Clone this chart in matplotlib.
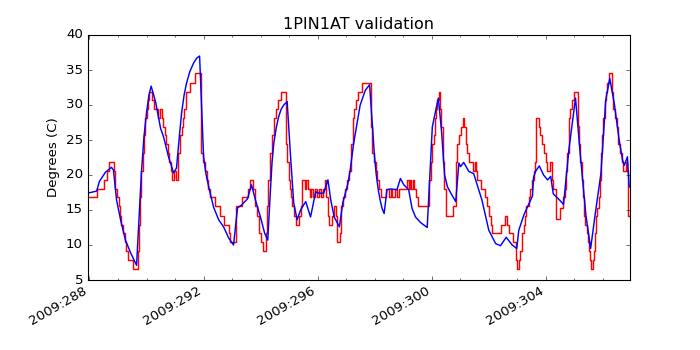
import matplotlib
matplotlib.use('Agg')
import matplotlib.pyplot as plt
from matplotlib.ticker import FixedLocator, FuncFormatter

plt.style.use('classic')

# telemetry (red, steps) - day of year 2009
red_t = [287.93, 288.28, 288.52, 288.61, 288.70, 288.87, 288.91, 288.96, 289.02, 289.07,
         289.11, 289.17, 289.25, 289.29, 289.34, 289.52, 289.70, 289.74, 289.77, 289.81,
         289.86, 289.91, 289.96, 290.02, 290.05, 290.09, 290.19, 290.25, 290.39, 290.46,
         290.54, 290.58, 290.63, 290.68, 290.74, 290.79, 290.84, 290.89, 290.96, 291.04,
         291.11, 291.12, 291.18, 291.23, 291.29, 291.33, 291.37, 291.40, 291.52, 291.69,
         291.91, 291.99, 292.04, 292.11, 292.16, 292.21, 292.40, 292.56, 292.70, 292.88,
         292.93, 293.14, 293.33, 293.54, 293.61, 293.72, 293.79, 293.82, 293.86, 293.93,
         293.96, 294.00, 294.07, 294.20, 294.23, 294.26, 294.32, 294.39, 294.46, 294.53,
         294.61, 294.70, 294.90, 294.93, 294.98, 295.02, 295.05, 295.11, 295.18, 295.25,
         295.34, 295.40, 295.46, 295.54, 295.58, 295.66, 295.72, 295.78, 295.82, 295.89,
         295.96, 296.04, 296.11, 296.18, 296.25, 296.30, 296.35, 296.39, 296.49, 296.56,
         296.65, 296.68, 296.77, 296.81, 296.88, 296.95, 297.02, 297.11, 297.17, 297.23,
         297.29, 297.34, 297.40, 297.55, 297.87, 297.91, 297.96, 298.04, 298.07, 298.14,
         298.21, 298.40, 298.49, 298.56, 298.60, 298.70, 298.77, 298.84, 299.12, 299.19,
         299.23, 299.28, 299.33, 299.37, 299.43, 299.51, 299.91, 299.96, 300.02, 300.07,
         300.12, 300.16, 300.20, 300.24, 300.28, 300.32, 300.38, 300.43, 300.49, 300.75,
         300.84, 300.90, 300.96, 301.02, 301.08, 301.13, 301.19, 301.25, 301.29, 301.45,
         301.51, 301.54, 301.57, 301.71, 301.88, 301.94, 302.00, 302.06, 302.12, 302.43,
         302.55, 302.64, 302.70, 302.85, 302.97, 302.99, 303.05, 303.11, 303.16, 303.23,
         303.26, 303.31, 303.40, 303.46, 303.52, 303.58, 303.61, 303.64, 303.75, 303.79,
         303.86, 303.93, 303.99, 304.04, 304.16, 304.20, 304.25, 304.36, 304.50, 304.59,
         304.67, 304.70, 304.74, 304.80, 304.85, 304.91, 304.97, 305.11, 305.16, 305.19,
         305.25, 305.30, 305.33, 305.38, 305.44, 305.47, 305.53, 305.56, 305.59, 305.65,
         305.68, 305.72, 305.75, 305.79, 305.85, 305.89, 305.93, 305.96, 306.02, 306.08,
         306.11, 306.16, 306.20, 306.31, 306.37, 306.42, 306.49, 306.54, 306.61, 306.67,
         306.69, 306.81, 306.84, 306.88, 306.95]
red_v = [16.8, 18.0, 19.3, 20.6, 21.8, 20.6, 18.0, 16.8, 15.5, 14.2,
         12.9, 11.7, 10.4, 9.1, 7.8, 6.6, 9.1, 12.9, 16.8, 20.6,
         23.1, 25.7, 28.2, 29.4, 30.7, 31.9, 30.7, 29.4, 28.2, 29.4,
         28.2, 26.9, 25.7, 24.4, 23.1, 21.8, 20.6, 19.3, 20.6, 19.3,
         20.6, 23.1, 25.7, 26.9, 28.2, 29.4, 30.7, 31.9, 33.2, 34.5,
         23.1, 21.8, 20.6, 19.3, 18.0, 16.8, 15.5, 14.2, 12.9, 11.7,
         10.4, 15.5, 16.8, 18.0, 19.3, 18.0, 16.8, 15.5, 14.2, 12.9,
         11.7, 10.4, 9.1, 11.7, 15.5, 19.3, 23.1, 25.7, 28.2, 29.4,
         30.7, 31.9, 24.4, 21.8, 19.3, 18.0, 16.8, 15.5, 14.2, 12.9,
         14.2, 15.5, 19.3, 18.0, 19.3, 18.0, 16.8, 18.0, 16.8, 18.0,
         16.8, 18.0, 16.8, 18.0, 19.3, 16.8, 14.2, 12.9, 14.2, 15.5,
         14.2, 10.4, 11.7, 15.5, 16.8, 18.0, 19.3, 20.6, 24.4, 28.2,
         29.4, 30.7, 31.9, 33.2, 26.9, 23.1, 21.8, 20.6, 19.3, 18.0,
         16.8, 18.0, 16.8, 18.0, 16.8, 18.0, 16.8, 18.0, 19.3, 18.0,
         19.3, 18.0, 19.3, 18.0, 16.8, 15.5, 19.3, 21.8, 24.4, 25.7,
         28.2, 29.4, 30.7, 31.9, 29.4, 26.9, 21.8, 18.0, 14.2, 15.5,
         21.8, 24.4, 25.7, 26.9, 28.2, 26.9, 24.4, 23.1, 21.8, 20.6,
         21.8, 20.6, 19.3, 18.0, 16.8, 15.5, 14.2, 12.9, 11.7, 12.9,
         14.2, 12.9, 11.7, 10.4, 7.8, 6.6, 7.8, 9.1, 11.7, 12.9,
         14.2, 15.5, 16.8, 18.0, 19.3, 20.6, 21.8, 28.2, 26.9, 25.7,
         24.4, 23.1, 21.8, 20.6, 21.8, 19.3, 18.0, 13.7, 15.3, 16.8,
         18.0, 20.6, 23.1, 28.2, 29.4, 30.7, 31.9, 27.0, 24.4, 21.8,
         19.3, 16.8, 14.2, 12.9, 11.7, 10.4, 9.1, 7.8, 6.6, 7.8,
         9.1, 11.7, 14.2, 15.3, 16.8, 19.3, 23.1, 25.7, 28.2, 30.7,
         31.9, 33.2, 34.5, 31.9, 29.4, 28.2, 26.9, 24.4, 23.1, 21.8,
         20.6, 21.8, 20.6, 14.2, 14.2]

# model (blue)
blue_t = [287.93, 288.25, 288.35, 288.56, 288.77, 288.84, 288.95, 289.09, 289.26, 289.44,
          289.65, 289.74, 289.82, 289.91, 290.00, 290.08, 290.16, 290.32, 290.49, 290.60,
          290.77, 290.95, 291.05, 291.15, 291.23, 291.32, 291.40, 291.52, 291.65, 291.76,
          291.86, 292.00, 292.09, 292.18, 292.35, 292.53, 292.70, 292.88,
          293.05, 293.19, 293.33, 293.54, 293.68, 293.82, 294.00, 294.14, 294.25, 294.30,
          294.35, 294.40, 294.46, 294.55, 294.63, 294.72, 294.81, 294.93, 295.05, 295.16,
          295.28, 295.40, 295.58, 295.75,
          295.93, 296.04, 296.21, 296.36, 296.46, 296.58, 296.76, 296.88, 297.06, 297.14,
          297.26, 297.38, 297.49, 297.67, 297.82, 297.87, 297.93, 297.99, 298.05, 298.12,
          298.19, 298.26, 298.33, 298.43,
          298.55, 298.78, 298.90, 299.02, 299.19, 299.31, 299.43, 299.61, 299.84, 300.02,
          300.23, 300.29, 300.34, 300.40, 300.45, 300.55, 300.67, 300.84, 300.95, 301.01,
          301.12, 301.30, 301.47,
          301.76, 302.00, 302.24, 302.41, 302.61, 302.82, 302.98, 303.05, 303.23, 303.53,
          303.57, 303.65, 303.77, 303.92, 304.06, 304.17, 304.26, 304.44, 304.62, 304.81,
          305.04, 305.19, 305.40, 305.57, 305.75, 305.93, 306.10, 306.24, 306.40, 306.57,
          306.69, 306.75, 306.86, 306.92]
blue_v = [17.4, 17.7, 19.1, 20.4, 21.1, 20.7, 16.4, 13.6, 10.7, 8.9,
          7.1, 14.0, 20.3, 25.5, 28.9, 31.3, 32.7, 30.4, 26.7, 25.4,
          22.6, 20.3, 21.0, 25.5, 28.9, 31.5, 33.1, 34.8, 36.0, 36.7,
          37.0, 22.6, 20.0, 18.3, 15.4, 13.6, 12.6, 11.0,
          10.0, 15.3, 15.7, 16.6, 18.6, 16.4, 13.9, 11.7, 10.7, 14.5,
          18.3, 21.8, 24.5, 26.8, 28.3, 29.4, 30.0, 30.5, 22.6, 16.0,
          13.6, 15.0, 16.2, 14.0,
          17.6, 17.4, 17.4, 19.3, 16.4, 14.0, 12.6, 16.0, 18.8, 20.7,
          24.5, 27.4, 30.0, 32.1, 32.9, 30.0, 26.4, 22.8, 20.2, 18.0,
          16.4, 15.2, 14.5, 17.9,
          18.0, 17.9, 19.5, 18.6, 17.9, 15.2, 14.0, 13.2, 12.5, 26.9,
          31.0, 28.5, 26.4, 22.8, 20.0, 18.3, 17.4, 16.2, 21.7, 21.2,
          21.8, 20.5, 20.2,
          16.4, 12.1, 10.2, 9.9, 11.1, 10.0, 9.5, 12.1, 14.3, 17.0,
          19.7, 20.6, 21.3, 20.0, 19.3, 19.8, 17.3, 16.6, 15.8, 23.7,
          31.0, 23.7, 14.4, 9.5, 15.0, 20.2, 30.7, 33.8, 30.2, 25.0,
          22.1, 21.4, 22.6, 18.3]

major_days = [288, 292, 296, 300, 304]
minor_days = list(range(288, 307))

fig = plt.figure(figsize=(8.75, 4.375), facecolor='white')
ax = fig.add_subplot(111)

ax.plot(red_t, red_v, color='r', drawstyle='steps-post', lw=1.3)
ax.plot(blue_t, blue_v, color='b', lw=1.3)

ax.set_xlim(287.93, 306.95)
ax.set_ylim(5, 40)
ax.xaxis.set_major_locator(FixedLocator(major_days))
ax.xaxis.set_minor_locator(FixedLocator(minor_days))
ax.xaxis.set_major_formatter(FuncFormatter(lambda x, pos: '2009:%03d' % int(round(x))))

ax.set_title('1PIN1AT validation')
ax.set_ylabel('Degrees (C)')
fig.autofmt_xdate()

fig.savefig('out.png', dpi=80, facecolor='white')
